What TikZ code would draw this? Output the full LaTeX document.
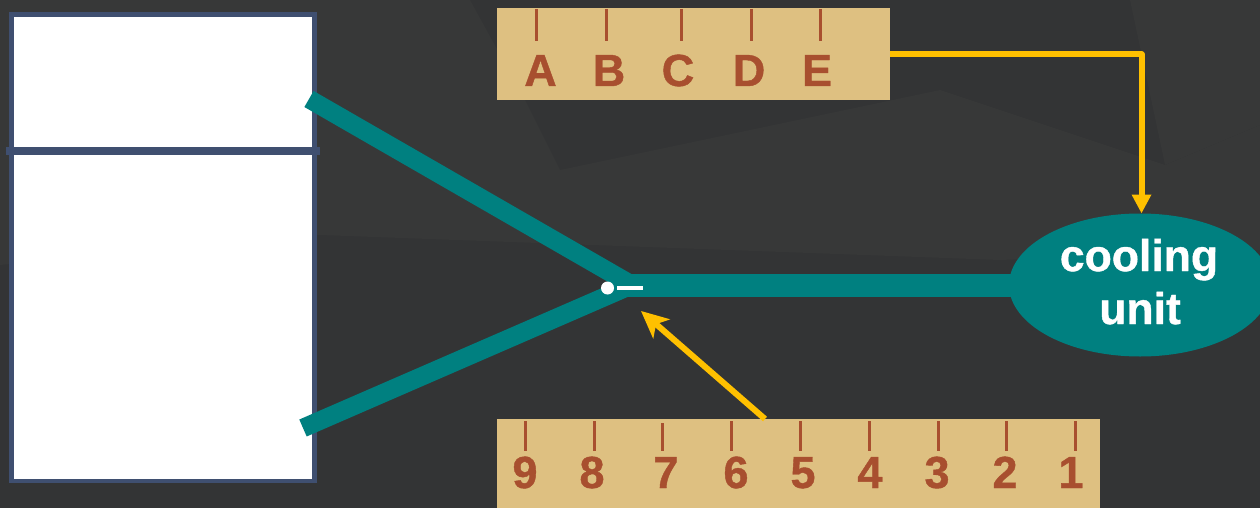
\documentclass[tikz,border=0pt]{standalone}
\usepackage{fontspec}
\setmainfont[BoldFeatures={FakeBold=0.9}]{Liberation Sans}
\usetikzlibrary{arrows.meta,shapes.geometric}
\definecolor{bgdark}{HTML}{333435}
\definecolor{bgmid}{HTML}{373838}
\definecolor{ruler}{HTML}{DEC081}
\definecolor{rust}{HTML}{A84F2F}
\definecolor{tealx}{HTML}{008080}
\definecolor{gold}{HTML}{FFC000}
\definecolor{frame}{HTML}{3F4F70}
\tikzset{
  rulerbox/.style={fill=ruler,draw=none,inner sep=0pt,minimum width=#1,outer sep=0pt},
  tick/.style={draw=rust,line width=3pt},
  lab/.style={text=rust,font=\bfseries\fontsize{45}{45}\selectfont,anchor=base,inner sep=0pt},
  tube/.style={draw=tealx,line width=18.5pt},
  flow/.style={draw=gold,line width=6pt,line join=round,-{Triangle[length=19pt,width=18.5pt]}},
  flowb/.style={draw=gold,line width=6pt,-{Stealth[length=27pt,width=25pt,inset=7pt]}},
}
\begin{document}
\begin{tikzpicture}[x=1pt,y=-1pt]
\useasboundingbox (0,0) rectangle (1260,508);
\clip (0,0) rectangle (1260,508);
\fill[bgdark] (0,0) rectangle (1260,508);
% faint background facets
\fill[bgmid] (0,0) -- (470,0) -- (525,100) -- (560,170) -- (940,90) -- (1165,165) -- (1260,125) -- (1260,250) -- (1000,260) -- (320,235) -- (0,265) -- cycle;
\fill[bgmid] (1130,0) -- (1260,0) -- (1260,125) -- (1165,165) -- cycle;
% fridge
\node[draw=frame,fill=white,line width=4.5pt,inner sep=0pt,outer sep=0pt,minimum width=303pt,minimum height=466.5pt] (fridge) at (163,247.75) {};
\coordinate (divL) at (6,151);
\coordinate (divR) at (320,151);
\draw[frame,line width=8pt] (divL) -- (divR);
% tubes
\node[ellipse,fill=tealx,inner sep=0pt,outer sep=0pt,minimum width=262pt,minimum height=143pt] (cool) at (1140,285) {};
\coordinate (junc) at (632,285);
\coordinate (juncb) at (620,285.5);
\coordinate (up) at (309,99);
\coordinate (low) at (303,428);
\draw[tube] (up) -- (junc);
\draw[tube] (low) -- (junc);
\draw[tealx,line width=23pt] (juncb) -- (cool.west |- juncb) -- +(20,0);
\node[text=white,font=\bfseries\fontsize{44.5}{44.5}\selectfont,anchor=base,inner sep=0pt] (t1) at (1139,271) {cooling};
\node[text=white,font=\bfseries\fontsize{44.5}{44.5}\selectfont,anchor=base,inner sep=0pt] (t2) at (1140,324) {unit};
% valve
\node[circle,fill=white,inner sep=0pt,minimum size=13pt] (dot) at (607.5,288) {};
\coordinate (d1) at (617,288);
\coordinate (d2) at (643,288);
\draw[white,line width=4pt] (d1) -- (d2);
% rulers
\node[rulerbox=393pt,minimum height=92pt] (top) at (693.5,54) {};
\node[rulerbox=603pt,minimum height=89pt] (bot) at (798.5,463.5) {};
\foreach \x/\lx/\t in {536/540.5/A,606/609/B,681/678/C,751/749/D,820/817/E}{
  \draw[tick] (\x,9) -- (\x,41);
  \node[lab] (L\t) at (\lx,86) {\t};
}
\foreach \x/\lx/\t/\ys in {525/525/9/421,594/592/8/421,662.7/666/7/423,731.5/736/6/421,800/803/5/421,869/870/4/421,938/937/3/421,1006.5/1005/2/421,1075/1071/1/421}{
  \draw[tick] (\x,\ys) -- (\x,451);
  \node[lab] (N\t) at (\lx,488) {\t};
}
% arrows
\coordinate (ctrl) at (641,311);
\coordinate (bend) at (1141.5,54.5);
\draw[flow] (top.east |- bend) -- (bend) -- (bend |- cool.north);
\draw[flowb] (765,419) -- (ctrl);
\end{tikzpicture}
\end{document}
